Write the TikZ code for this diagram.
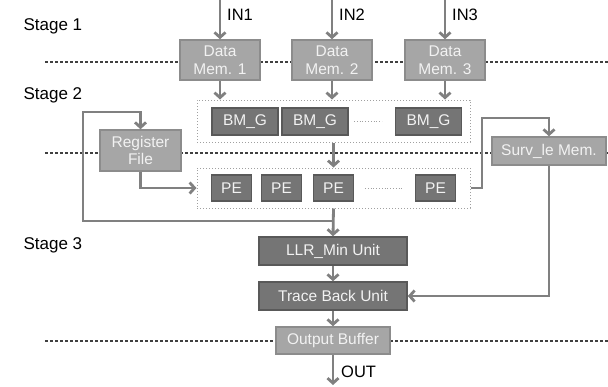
\documentclass[tikz,border=0pt]{standalone}
\usepackage{fontspec}
\setmainfont{Liberation Sans}
\usetikzlibrary{arrows.meta}
\definecolor{StageLine}{HTML}{404040}
\definecolor{FlowLine}{HTML}{808080}
\definecolor{LightFill}{HTML}{A6A6A6}
\definecolor{LightEdge}{HTML}{8C8C8C}
\definecolor{DarkFill}{HTML}{757575}
\definecolor{DarkEdge}{HTML}{595959}
\definecolor{GroupEdge}{HTML}{A0A0A0}
\definecolor{BoxText}{HTML}{F2F2F2}

\tikzset{
  lightbox/.style={draw=LightEdge,fill=LightFill,line width=1.5pt,text=BoxText,align=center,inner sep=0pt,font=\fontsize{15.5}{17.5}\selectfont},
  darkbox/.style={draw=DarkEdge,fill=DarkFill,line width=1.5pt,text=BoxText,align=center,inner sep=0pt,font=\fontsize{15.5}{17.5}\selectfont},
  groupbox/.style={draw=GroupEdge,dotted,line width=1pt,inner sep=0pt},
  stageline/.style={draw=StageLine,line width=2.5pt,dash pattern=on 2.5pt off 2.5pt},
  flow/.style={draw=FlowLine,line width=2.8pt,-{Straight Barb[length=5pt,width=11pt]}},
  gapdots/.style={draw=GroupEdge,dotted,line width=0.8pt},
  stagelabel/.style={anchor=west,font=\fontsize{17}{19}\selectfont},
  portlabel/.style={anchor=west,inner sep=1pt,font=\fontsize{16.5}{18}\selectfont}
}

\begin{document}
\begin{tikzpicture}[x=1pt,y=-1pt]
  \useasboundingbox (0,0) rectangle (608,386);

  % stage borders
  \draw[stageline] (45,62) -- (608,62);
  \draw[stageline] (45,153) -- (608,153);
  \draw[stageline] (45,341) -- (608,341);

  \node[stagelabel] (s1) at (20,26) {Stage 1};
  \node[stagelabel] (s2) at (20,95) {Stage 2};
  \node[stagelabel] (s3) at (20,245) {Stage 3};

  % data memories
  \node[lightbox,minimum width=80pt,minimum height=40pt] (dm1) at (220,60) {Data\\Mem. 1};
  \node[lightbox,minimum width=80pt,minimum height=40pt] (dm2) at (332,60) {Data\\Mem. 2};
  \node[lightbox,minimum width=80pt,minimum height=40pt] (dm3) at (445,60) {Data\\Mem. 3};
  \coordinate (in1) at (220,0);
  \coordinate (in2) at (332,0);
  \coordinate (in3) at (445,0);
  \draw[flow] (in1) -- (dm1.north);
  \draw[flow] (in2) -- (dm2.north);
  \draw[flow] (in3) -- (dm3.north);
  \node[portlabel] (l1) at (226,15) {IN1};
  \node[portlabel] (l2) at (338,15) {IN2};
  \node[portlabel] (l3) at (451,15) {IN3};

  % branch metric group
  \node[groupbox,minimum width=273pt,minimum height=42pt] (bmgrp) at (333.5,121) {};
  \node[darkbox,minimum width=66pt,minimum height=27pt] (bm1) at (245,121.5) {BM\_G};
  \node[darkbox,minimum width=66pt,minimum height=27pt] (bm2) at (315,121.5) {BM\_G};
  \node[darkbox,minimum width=66pt,minimum height=27pt] (bm3) at (428.5,121.5) {BM\_G};
  \draw[gapdots] (354,121) -- (382,121);
  \draw[flow] (dm1.south) -- (dm1.south |- bmgrp.north);
  \draw[flow] (dm2.south) -- (dm2.south |- bmgrp.north);
  \draw[flow] (dm3.south) -- (dm3.south |- bmgrp.north);

  % processing elements
  \node[groupbox,minimum width=273pt,minimum height=40pt] (pegrp) at (333.5,188) {};
  \node[darkbox,minimum width=40pt,minimum height=26pt] (pe1) at (231.5,188) {PE};
  \node[darkbox,minimum width=40pt,minimum height=26pt] (pe2) at (281.5,188) {PE};
  \node[darkbox,minimum width=40pt,minimum height=26pt] (pe3) at (333.5,188) {PE};
  \node[darkbox,minimum width=40pt,minimum height=26pt] (pe4) at (435.5,188) {PE};
  \draw[gapdots] (365,188) -- (404,188);
  \draw[flow] (bmgrp.south) -- (pegrp.north);

  % register file and feedback
  \node[lightbox,minimum width=81pt,minimum height=41pt] (rf) at (140.5,150.5) {Register\\File};
  \coordinate (tap) at (333.5,221);
  \coordinate (fbtop) at (83,112);
  \draw[flow] (tap) -| (fbtop) -| (rf.north);
  \draw[flow] (rf.south) |- (pegrp.west);

  % survivor memory
  \node[lightbox,minimum width=114pt,minimum height=28pt] (surv) at (549,151) {Surv\_le Mem.};
  \coordinate (survin) at (482,118);
  \draw[flow] (pegrp.east) -| (survin) -| (surv.north);

  % stage 3 units
  \node[darkbox,minimum width=148pt,minimum height=28pt] (llr) at (333,251) {LLR\_Min Unit};
  \node[darkbox,minimum width=148pt,minimum height=28pt] (tb) at (333,296) {Trace Back Unit};
  \node[lightbox,minimum width=114pt,minimum height=27pt] (ob) at (333,340.5) {Output Buffer};
  \coordinate (out) at (333,385);
  \draw[flow] (pegrp.south) -- (llr.north);
  \draw[flow] (llr.south) -- (tb.north);
  \draw[flow] (surv.south) |- (tb.east);
  \draw[flow] (tb.south) -- (ob.north);
  \draw[flow] (ob.south) -- (out);
  \node[portlabel] (lo) at (340,372) {OUT};
\end{tikzpicture}
\end{document}
